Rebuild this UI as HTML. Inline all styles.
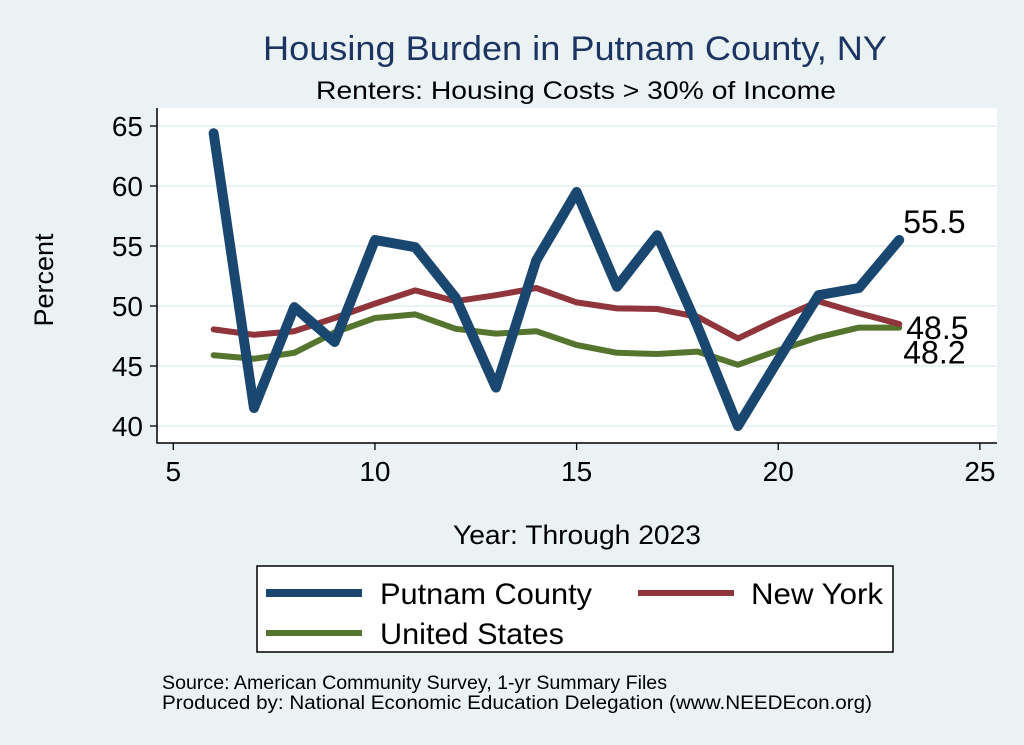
<!DOCTYPE html>
<html><head><meta charset="utf-8"><style>
html,body{margin:0;padding:0;background:#eaf2f3;}
svg{display:block;font-family:"Liberation Sans",Arial,sans-serif;}
</style></head><body>
<svg id="chart" width="1024" height="745" viewBox="0 0 1024 745" xmlns="http://www.w3.org/2000/svg">
<rect x="0" y="0" width="1024" height="745" fill="#eaf2f3"/>
<text x="263" y="60" font-size="34" fill="#1c3461" textLength="624" lengthAdjust="spacingAndGlyphs">Housing Burden in Putnam County, NY</text>
<text x="316" y="99" font-size="25" fill="#000" textLength="520" lengthAdjust="spacingAndGlyphs">Renters: Housing Costs &gt; 30% of Income</text>
<rect x="157" y="108" width="840" height="335" fill="#fff"/>
<g id="grid"></g>
<g id="axes"></g>
<g id="series"></g>
<text x="0" y="0" transform="translate(53,280) rotate(-90)" text-anchor="middle" font-size="27">Percent</text>
<text x="453" y="544" font-size="27" textLength="248" lengthAdjust="spacingAndGlyphs">Year: Through 2023</text>
<g>
<rect x="257" y="566" width="636" height="86" fill="#fff" stroke="#000" stroke-width="1.5"/>
<line x1="266" y1="593" x2="362" y2="593" stroke="#1a476f" stroke-width="8"/>
<text x="380" y="604" font-size="30" textLength="212" lengthAdjust="spacingAndGlyphs">Putnam County</text>
<line x1="638" y1="593" x2="734" y2="593" stroke="#90353b" stroke-width="6"/>
<text x="751" y="604" font-size="30" textLength="132" lengthAdjust="spacingAndGlyphs">New York</text>
<line x1="266" y1="633" x2="362" y2="633" stroke="#55752f" stroke-width="6"/>
<text x="380" y="644" font-size="30" textLength="184" lengthAdjust="spacingAndGlyphs">United States</text>
</g>
<text x="162" y="689" font-size="19" textLength="505" lengthAdjust="spacingAndGlyphs">Source: American Community Survey, 1-yr Summary Files</text>
<text x="162" y="709" font-size="19" textLength="710" lengthAdjust="spacingAndGlyphs">Produced by: National Economic Education Delegation (www.NEEDEcon.org)</text>
</svg>
<script>
const years = [6,7,8,9,10,11,12,13,14,15,16,17,18,19,20,21,22,23];
const putnam = [64.4,41.5,49.9,47.0,55.5,54.9,50.7,43.2,53.8,59.5,51.6,55.9,48.3,40.0,45.5,50.9,51.5,55.5];
const newYork = [48.05,47.6,47.9,49.0,50.2,51.3,50.4,50.9,51.5,50.3,49.8,49.75,49.1,47.3,48.9,50.4,49.4,48.5];
const unitedStates = [45.9,45.6,46.1,47.8,49.0,49.3,48.1,47.7,47.9,46.75,46.1,46.0,46.2,45.1,46.3,47.4,48.2,48.2];
const xTicks = [5,10,15,20,25];
const yTicks = [40,45,50,55,60,65];
const endLabels = ["55.5","48.5","48.2"];

const NS="http://www.w3.org/2000/svg";
const xs = v => 173.3 + (v-5)*40.33;
const ys = v => 126 + (65-v)*12;
function mk(tag, attrs, parent){const e=document.createElementNS(NS,tag);for(const k in attrs)e.setAttribute(k,attrs[k]);parent.appendChild(e);return e;}
const grid=document.getElementById('grid'), axes=document.getElementById('axes'), series=document.getElementById('series');
yTicks.forEach(t=>{
  const g=mk('line',{x1:157,x2:997,y1:ys(t),y2:ys(t),stroke:'#eaf2f3','stroke-width':2},grid);
  
  
  const tk=mk('line',{x1:150,x2:157,y1:ys(t),y2:ys(t),stroke:'#000','stroke-width':1.3},axes);
  
  
  const lb=mk('text',{x:143,y:ys(t)+10,'text-anchor':'end','font-size':28},axes);
  lb.textContent=t;
  
  
});
xTicks.forEach(t=>{
  const tk=mk('line',{x1:xs(t),x2:xs(t),y1:443,y2:450,stroke:'#000','stroke-width':1.3},axes);
  
  
  const lb=mk('text',{x:xs(t),y:481,'text-anchor':'middle','font-size':28},axes);
  lb.textContent=t;
  
  
});
const ax1=mk('line',{x1:157,x2:157,y1:108,y2:443.5,stroke:'#000','stroke-width':1.5},axes);


const ax2=mk('line',{x1:156.5,x2:997,y1:443,y2:443,stroke:'#000','stroke-width':1.5},axes);


function draw(vals,color,w,name){
  const p=mk('polyline',{points:years.map((y,i)=>xs(y)+','+ys(vals[i])).join(' '),fill:'none',stroke:color,'stroke-width':w,'stroke-linejoin':'round','stroke-linecap':'round'},series);
  
  
}
draw(unitedStates,'#55752f',6,'line-united-states');
draw(newYork,'#90353b',6,'line-new-york');
draw(putnam,'#1a476f',10,'line-putnam-county');
const last=years.length-1;
const lx=xs(years[last])+4;
const l1=mk('text',{x:lx,y:ys(putnam[last])-7,'font-size':32},series);
l1.textContent=endLabels[0];


const l2=mk('text',{x:lx+3,y:ys(newYork[last])+15,'font-size':32},series);
l2.textContent=endLabels[1];


const l3=mk('text',{x:lx,y:ys(unitedStates[last])+36,'font-size':32},series);
l3.textContent=endLabels[2];


</script>
</body></html>
